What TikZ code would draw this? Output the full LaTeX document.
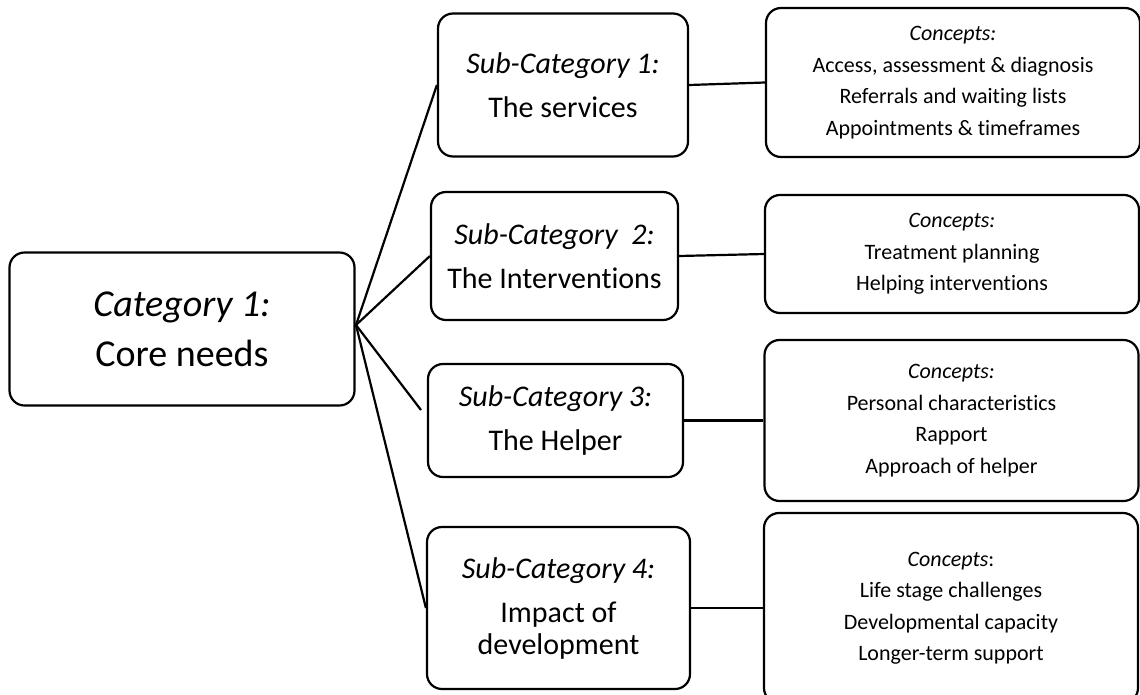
\documentclass[tikz,border=0pt]{standalone}
\usepackage{fontspec}
\setmainfont[Ligatures={NoCommon}]{Carlito}
\usepackage{tikz}
\tikzset{
  box/.style={draw, line width=2.2pt, rounded corners=15pt, align=center, inner sep=0pt},
  catbox/.style={box, minimum width=345pt, minimum height=153pt, font=\fontsize{38}{50}\selectfont},
  subbox/.style={box, font=\fontsize{30}{44}\selectfont},
  conbox/.style={box, minimum width=374pt, font=\fontsize{22}{31.5}\selectfont},
  link/.style={line width=2.2pt}
}
\begin{document}
\begin{tikzpicture}[x=1pt, y=-1pt]
\useasboundingbox (0,0) rectangle (1140,694);
% category
\node[catbox] (cat) at (182,329) {\textit{Category 1:}\\Core needs};
% sub-categories
\node[subbox, minimum width=250pt, minimum height=143pt] (sub1) at (563,85) {\textit{Sub-Category 1:}\\The services};
\node[subbox, minimum width=247pt, minimum height=128pt] (sub2) at (554.5,256) {\textit{Sub-Category\ \ 2:}\\The Interventions};
\node[subbox, minimum width=255pt, minimum height=113pt] (sub3) at (555.5,420.5) {\textit{Sub-Category 3:}\\The Helper};
\node[subbox, minimum width=263pt, minimum height=162pt] (sub4) at (558.5,608) {\textit{Sub-Category 4:}\\Impact of\\[-12pt]development};
% concepts
\node[conbox, minimum height=149pt] (con1) at (953,82.5) {\textit{Concepts:}\\Access, assessment \& diagnosis\\Referrals and waiting lists\\Appointments \& timeframes};
\node[conbox, minimum height=118pt] (con2) at (952,254) {\textit{Concepts:}\\Treatment planning\\Helping interventions};
\node[conbox, minimum height=161pt] (con3) at (951.5,420.5) {\textit{Concepts:}\\Personal characteristics\\Rapport\\Approach of helper};
\node[conbox, minimum height=190pt] (con4) at (951,608) {\textit{Concepts}:\\Life stage challenges\\Developmental capacity\\Longer-term support};
% connectors
\coordinate (hub) at (356,325);
\coordinate (s3end) at (421,410);
\draw[link] (hub) -- (sub1.west);
\draw[link] (hub) -- (sub2.west);
\draw[link] (hub) -- (s3end);
\draw[link] (hub) -- (sub4.west);
\draw[link] (sub1.east) -- (con1.west);
\draw[link] (sub2.east) -- (con2.west);
\draw[link] (sub3.east) -- (con3.west);
\draw[link] (sub4.east) -- (con4.west);
\end{tikzpicture}
\end{document}
